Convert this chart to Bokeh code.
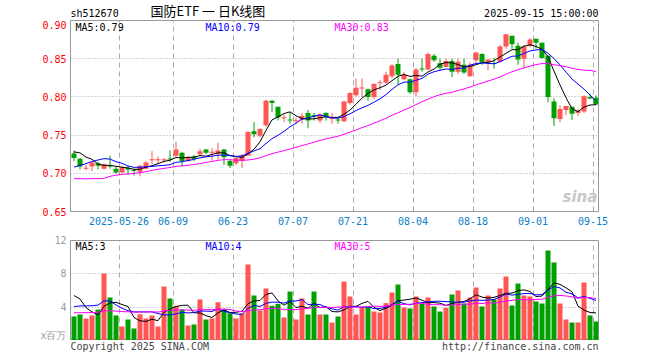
import numpy as np
import pandas as pd
from bokeh.plotting import figure
from bokeh.layouts import column
from bokeh.models import Range1d, FixedTicker, Label, NumeralTickFormatter
from bokeh.embed import file_html
from bokeh.resources import INLINE

# ---------------- data ----------------
opens = [0.726, 0.719, 0.706, 0.709, 0.713, 0.706, 0.710, 0.706, 0.701, 0.707,
         0.704, 0.702, 0.706, 0.717, 0.717, 0.717, 0.719, 0.723, 0.727, 0.716,
         0.722, 0.725, 0.731, 0.727, 0.726, 0.731, 0.716, 0.713, 0.716, 0.723,
         0.755, 0.749, 0.763, 0.795, 0.787, 0.772, 0.7705, 0.768, 0.770, 0.779,
         0.776, 0.769, 0.779, 0.771, 0.770, 0.768, 0.792, 0.802, 0.811, 0.810,
         0.800, 0.818, 0.819, 0.827, 0.843, 0.823, 0.823, 0.806, 0.837, 0.836,
         0.854, 0.844, 0.839, 0.847, 0.833, 0.842, 0.827, 0.848, 0.856, 0.845,
         0.844, 0.846, 0.866, 0.880, 0.867, 0.850, 0.867, 0.876, 0.871, 0.854,
         0.794, 0.771, 0.783, 0.787, 0.779, 0.781, 0.800, 0.799]
highs = [0.730, 0.720, 0.711, 0.716, 0.715, 0.713, 0.723, 0.709, 0.709, 0.710,
         0.706, 0.711, 0.716, 0.729, 0.722, 0.720, 0.730, 0.741, 0.728, 0.723,
         0.724, 0.732, 0.732, 0.733, 0.740, 0.732, 0.718, 0.721, 0.725, 0.755,
         0.767, 0.759, 0.796, 0.796, 0.787, 0.777, 0.780, 0.773, 0.779, 0.783,
         0.779, 0.778, 0.780, 0.779, 0.773, 0.795, 0.806, 0.824, 0.824, 0.811,
         0.818, 0.822, 0.833, 0.843, 0.850, 0.833, 0.824, 0.838, 0.850, 0.858,
         0.856, 0.850, 0.850, 0.850, 0.850, 0.850, 0.845, 0.859, 0.857, 0.849,
         0.851, 0.868, 0.882, 0.880, 0.871, 0.868, 0.877, 0.876, 0.871, 0.854,
         0.798, 0.789, 0.788, 0.787, 0.784, 0.802, 0.804, 0.802]
lows = [0.716, 0.705, 0.704, 0.703, 0.705, 0.705, 0.706, 0.700, 0.700, 0.698,
        0.697, 0.696, 0.705, 0.712, 0.712, 0.714, 0.715, 0.721, 0.709, 0.715,
        0.716, 0.722, 0.725, 0.717, 0.718, 0.711, 0.707, 0.711, 0.707, 0.723,
        0.747, 0.747, 0.761, 0.780, 0.769, 0.767, 0.765, 0.764, 0.765, 0.759,
        0.769, 0.766, 0.769, 0.765, 0.765, 0.767, 0.790, 0.800, 0.800, 0.795,
        0.797, 0.809, 0.817, 0.824, 0.816, 0.822, 0.804, 0.801, 0.833, 0.835,
        0.846, 0.835, 0.839, 0.826, 0.830, 0.830, 0.826, 0.844, 0.842, 0.835,
        0.837, 0.845, 0.863, 0.863, 0.842, 0.837, 0.865, 0.863, 0.850, 0.793,
        0.762, 0.767, 0.776, 0.770, 0.775, 0.779, 0.797, 0.789]
closes = [0.720, 0.709, 0.707, 0.714, 0.710, 0.712, 0.709, 0.701, 0.708, 0.705,
          0.703, 0.710, 0.714, 0.718, 0.718, 0.718, 0.718, 0.731, 0.716, 0.721,
          0.719, 0.729, 0.727, 0.728, 0.730, 0.721, 0.710, 0.720, 0.723, 0.754,
          0.751, 0.758, 0.795, 0.792, 0.773, 0.773, 0.769, 0.7695, 0.775, 0.769,
          0.774, 0.777, 0.774, 0.772, 0.769, 0.794, 0.805, 0.812, 0.812, 0.800,
          0.817, 0.819, 0.829, 0.841, 0.829, 0.829, 0.806, 0.836, 0.836, 0.856,
          0.848, 0.838, 0.847, 0.833, 0.846, 0.832, 0.842, 0.858, 0.845, 0.849,
          0.843, 0.866, 0.882, 0.869, 0.849, 0.866, 0.875, 0.871, 0.851, 0.800,
          0.772, 0.784, 0.788, 0.778, 0.782, 0.801, 0.798, 0.790]
volumes = [2.88, 3.12, 2.64, 3.0, 3.72, 8.04, 5.16, 3.0, 1.68, 2.52,
           1.44, 3.16, 2.64, 3.0, 1.68, 6.48, 5.04, 4.16, 3.72, 1.8,
           1.92, 4.92, 2.52, 2.64, 4.6, 3.76, 3.28, 2.64, 3.28, 9.12,
           5.4, 3.6, 6.24, 4.16, 4.4, 2.76, 5.88, 2.52, 5.04, 3.12,
           5.88, 3.12, 3.12, 2.16, 2.88, 7.08, 5.28, 3.12, 3.92, 4.08,
           3.48, 3.36, 4.48, 5.76, 6.72, 3.96, 3.84, 5.28, 4.4, 5.16,
           4.08, 3.48, 3.92, 5.52, 6.0, 4.44, 5.16, 6.36, 4.08, 5.4,
           4.92, 6.24, 7.68, 4.2, 6.84, 5.4, 5.28, 4.68, 4.44, 10.8,
           9.36, 4.44, 2.52, 2.16, 2.16, 6.96, 3.0, 2.28]
# earlier sessions (not drawn), only used to seed the moving averages
hist_close = [0.712, 0.714, 0.706, 0.709, 0.703, 0.628, 0.655, 0.676, 0.688, 0.684,
              0.678, 0.674, 0.670, 0.676, 0.681, 0.684, 0.688, 0.694, 0.698, 0.692,
              0.688, 0.684, 0.686, 0.690, 0.694, 0.715, 0.735, 0.728, 0.742]
hist_vol = [2.6, 2.4, 2.8, 3.0, 2.7, 4.6, 4.2, 3.6, 3.2, 2.8,
            2.6, 2.5, 2.4, 2.6, 2.8, 2.7, 2.9, 3.0, 2.8, 2.6,
            2.4, 2.6, 2.8, 3.0, 3.0, 5.2, 7.8, 5.6, 5.5]

tick_idx = [8, 17, 27, 37, 47, 57, 67, 77, 87]
tick_labels = ["2025-05-26", "06-09", "06-23", "07-07", "07-21",
               "08-04", "08-18", "09-01", "09-15"]
price_ticks = [0.65, 0.70, 0.75, 0.80, 0.85, 0.90]
vol_ticks = [0, 4, 8, 12]

symbol = "sh512670"
title_text = "国防ETF 一 日K线图"
stamp = "2025-09-15 15:00:00"
price_ma_text = ["MA5:0.79", "MA10:0.79", "MA30:0.83"]
vol_ma_text = ["MA5:3", "MA10:4", "MA30:5"]
copyright_text = "Copyright 2025 SINA.COM"
site_text = "http://finance.sina.com.cn"

# ---------------- styling ----------------
RED = "#ff5555"
GREEN = "#00a000"
MONO = "DejaVu Sans Mono"
GRID = "#aaaaaa"
BORDER = "#999999"
MA_COLORS = ["#000000", "#0000ff", "#ff00ff"]
LEFT, RIGHT = 70, 10

n = len(closes)
o = np.array(opens)
c = np.array(closes)
h = np.array(highs)
lo = np.array(lows)
v = np.array(volumes)
xs = np.arange(n) + 0.5
colors = [RED if cc >= oo else GREEN for oo, cc in zip(o, c)]

cs = pd.Series(hist_close + closes)
vs = pd.Series(hist_vol + volumes)
pma = [cs.rolling(w).mean().values[-n:] for w in (5, 10, 30)]
vma = [vs.rolling(w).mean().values[-n:] for w in (5, 10, 30)]

FW, PH, VH = 528, 191, 100
onepx = (0.90 - 0.65) / PH
btop = np.maximum(o, c)
bbot = np.minimum(o, c)
btop = np.where(btop - bbot < onepx, bbot + onepx, btop)

x_range = Range1d(-1 / 12, n - 1 / 12)


def text_strip(height):
    f = figure(frame_width=FW, frame_height=height, x_axis_type=None, y_axis_type=None,
               x_range=Range1d(0, 1), y_range=Range1d(0, 1),
               min_border_left=LEFT, min_border_right=RIGHT, min_border_top=0,
               min_border_bottom=0, output_backend="svg", toolbar_location=None)
    f.outline_line_color = None
    f.background_fill_color = "white"
    f.border_fill_color = "white"
    return f


def style_common(fig):
    fig.background_fill_color = "white"
    fig.border_fill_color = "white"
    fig.outline_line_color = BORDER
    fig.outline_line_width = 1
    fig.xgrid.ticker = FixedTicker(ticks=tick_idx)
    fig.xgrid.grid_line_color = GRID
    fig.xgrid.grid_line_dash = "5 4"
    fig.ygrid.grid_line_color = GRID
    fig.ygrid.grid_line_dash = "1 2"
    for ax in fig.yaxis:
        ax.axis_line_color = None
        ax.major_tick_line_color = None
        ax.minor_tick_line_color = None
        ax.major_tick_in = 0
        ax.major_tick_out = 0
        ax.minor_tick_in = 0
        ax.minor_tick_out = 0
        ax.major_label_text_font = MONO
        ax.major_label_text_font_size = "10px"
        ax.major_label_standoff = 4


# ---------------- header ----------------
head = text_strip(20)
head.add_layout(Label(x=0, y=7, x_units="screen", y_units="screen", text=symbol,
                      text_font=MONO, text_font_size="10px", text_color="#000000",
                      text_baseline="middle"))
head.add_layout(Label(x=80, y=10, x_units="screen", y_units="screen", text=title_text,
                      text_font="Noto Sans CJK SC", text_font_size="13px",
                      text_color="#000000", text_baseline="middle"))
head.add_layout(Label(x=FW, y=7, x_units="screen", y_units="screen", text=stamp,
                      text_font=MONO, text_font_size="10px", text_color="#000000",
                      text_baseline="middle", text_align="right"))

# ---------------- price chart ----------------
p = figure(frame_width=FW, frame_height=PH, x_range=x_range,
           y_range=Range1d(0.65, 0.90), min_border_left=LEFT, min_border_right=RIGHT,
           min_border_top=0, min_border_bottom=20,
           output_backend="svg", toolbar_location=None)
style_common(p)
p.ygrid.ticker = FixedTicker(ticks=price_ticks[1:-1])
p.yaxis.ticker = FixedTicker(ticks=price_ticks)
p.yaxis.formatter = NumeralTickFormatter(format="0.00")
p.yaxis.major_label_text_color = "#ff0000"
p.xaxis.ticker = FixedTicker(ticks=tick_idx)
p.xaxis.major_label_overrides = {t: l for t, l in zip(tick_idx, tick_labels)}
p.xaxis.axis_line_color = None
p.xaxis.major_tick_in = 2
p.xaxis.major_tick_out = 0
p.xaxis.major_tick_line_color = BORDER
p.xaxis.minor_tick_line_color = None
p.xaxis.minor_tick_in = 0
p.xaxis.minor_tick_out = 0
p.xaxis.major_label_text_font = MONO
p.xaxis.major_label_text_font_size = "10px"
p.xaxis.major_label_text_color = "#0a80c8"
p.xaxis.major_label_standoff = 5

p.segment(xs, lo, xs, h, line_color=colors, line_width=1)
p.vbar(x=xs, width=5 / 6, top=btop, bottom=bbot, fill_color=colors, line_color=None)
for ma, col in zip(pma, MA_COLORS):
    p.line(xs, ma, line_color=col, line_width=1)

for txt, xx, col in zip(price_ma_text, [5, 135, 264], MA_COLORS):
    p.add_layout(Label(x=xx, y=PH - 7, x_units="screen", y_units="screen", text=txt,
                       text_font=MONO, text_font_size="10px", text_color=col,
                       text_baseline="middle"))
p.add_layout(Label(x=492, y=6, x_units="screen", y_units="screen", text="sina",
                   text_font="DejaVu Sans", text_font_style="bold italic",
                   text_font_size="15px", text_color="#c8c8c8"))

# ---------------- volume chart ----------------
q = figure(frame_width=FW, frame_height=VH, x_range=x_range,
           y_range=Range1d(0, 12), min_border_left=LEFT, min_border_right=RIGHT,
           min_border_top=9, min_border_bottom=0,
           output_backend="svg", toolbar_location=None)
style_common(q)
q.ygrid.ticker = FixedTicker(ticks=vol_ticks[1:-1])
q.yaxis.ticker = FixedTicker(ticks=vol_ticks)
q.yaxis.major_label_overrides = {0: "x百万"}
q.yaxis.major_label_text_color = "#999999"
q.xaxis.visible = False

q.vbar(x=xs, width=5 / 6, top=v, bottom=0, fill_color=colors, line_color=None)
for ma, col in zip(vma, MA_COLORS):
    q.line(xs, ma, line_color=col, line_width=1)
for txt, xx, col in zip(vol_ma_text, [5, 135, 264], MA_COLORS):
    q.add_layout(Label(x=xx, y=VH - 6, x_units="screen", y_units="screen", text=txt,
                       text_font=MONO, text_font_size="10px", text_color=col,
                       text_baseline="middle"))

# ---------------- footer ----------------
foot = text_strip(16)
foot.add_layout(Label(x=0, y=10, x_units="screen", y_units="screen",
                      text=copyright_text, text_font=MONO, text_font_size="10px",
                      text_color="#444444", text_baseline="middle"))
foot.add_layout(Label(x=FW, y=10, x_units="screen", y_units="screen",
                      text=site_text, text_font=MONO, text_font_size="10px",
                      text_color="#444444", text_baseline="middle", text_align="right"))

layout = column(head, p, q, foot, spacing=0)
open("out.html", "w").write(file_html(layout, INLINE))
